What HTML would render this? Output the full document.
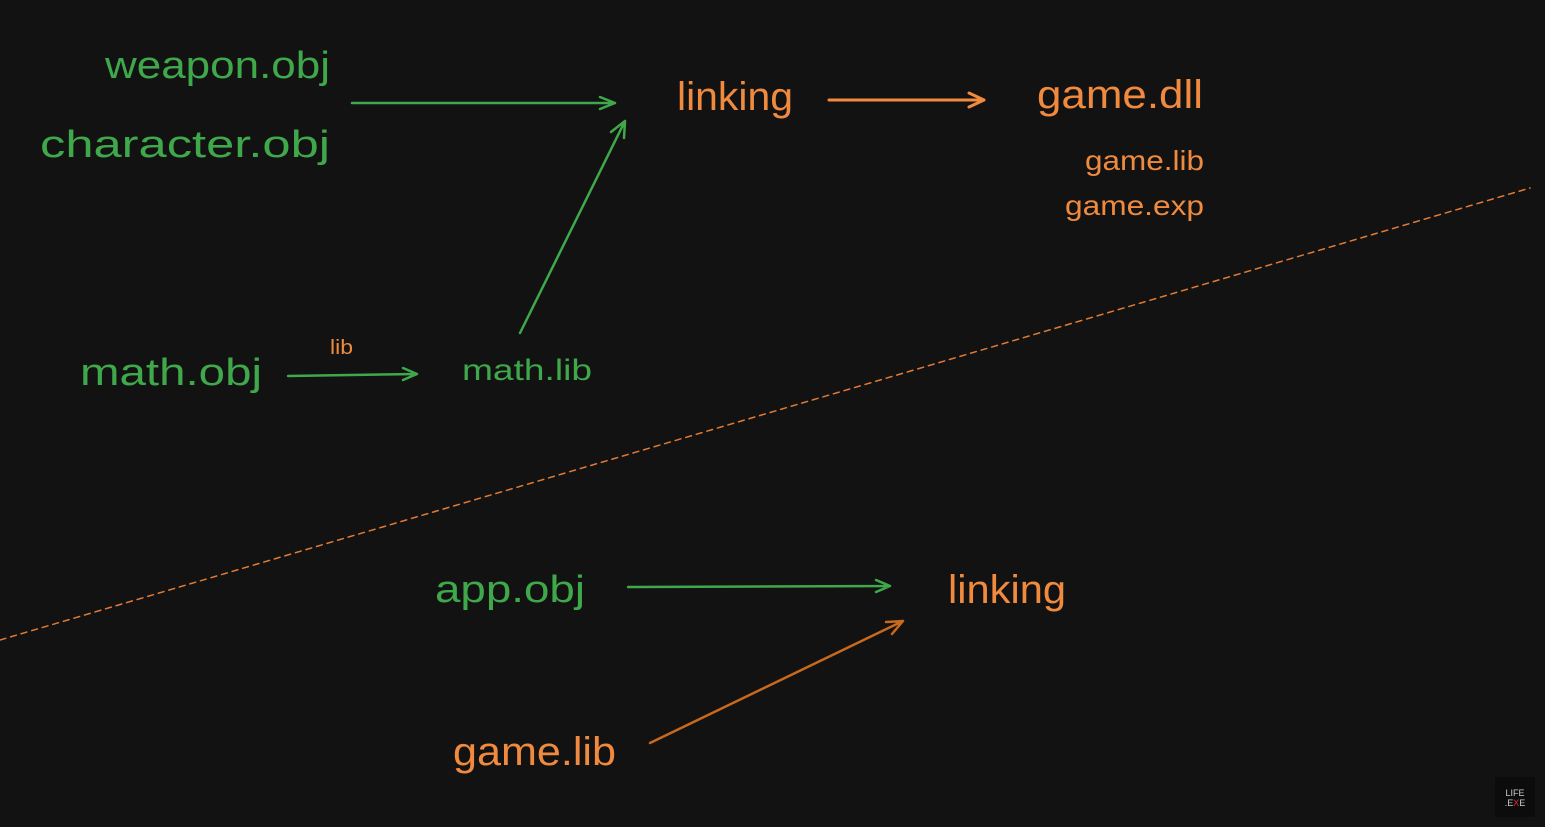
<!DOCTYPE html>
<html><head><meta charset="utf-8"><style>
html,body{margin:0;padding:0;background:#121212;}
svg{display:block}
text{font-family:"Liberation Sans",sans-serif;}
</style></head><body>
<svg width="1545" height="827" viewBox="0 0 1545 827" xmlns="http://www.w3.org/2000/svg">
<rect width="1545" height="827" fill="#121212"/>
<g fill="#3fa84b" font-size="38">
<text x="105" y="78" textLength="225" lengthAdjust="spacingAndGlyphs">weapon.obj</text>
<text x="40" y="157" textLength="290" lengthAdjust="spacingAndGlyphs">character.obj</text>
<text x="80" y="385" textLength="182" lengthAdjust="spacingAndGlyphs">math.obj</text>
<text x="462" y="380" font-size="30" textLength="130" lengthAdjust="spacingAndGlyphs">math.lib</text>
<text x="435" y="602" textLength="150" lengthAdjust="spacingAndGlyphs">app.obj</text>
</g>
<g fill="#f08a3e" font-size="40">
<text x="677" y="110" textLength="116" lengthAdjust="spacingAndGlyphs">linking</text>
<text x="1037" y="108" textLength="166" lengthAdjust="spacingAndGlyphs">game.dll</text>
<text x="1085" y="170" font-size="28" textLength="119" lengthAdjust="spacingAndGlyphs">game.lib</text>
<text x="1065" y="215" font-size="28" textLength="139" lengthAdjust="spacingAndGlyphs">game.exp</text>
<text x="330" y="354" font-size="20" textLength="23" lengthAdjust="spacingAndGlyphs">lib</text>
<text x="948" y="603" textLength="118" lengthAdjust="spacingAndGlyphs">linking</text>
<text x="453" y="765" textLength="163" lengthAdjust="spacingAndGlyphs">game.lib</text>
</g>
<g fill="none" stroke-width="2.5" stroke-linecap="round" stroke-linejoin="round">
<g stroke="#3fa84b">
<path d="M352 103 L615 103 M600 97 L615 103 L600 109"/>
<path d="M520 333 L625 121 M611 132 L625 121 L624 138"/>
<path d="M288 376 L417 374 M403 368 L417 374 L403 380"/>
<path d="M628 587 L890 586 M876 580 L890 586 L876 592"/>
</g>
<path stroke="#f08a3e" stroke-width="3" d="M829 100 L984 100 M969 93 L984 100 L969 107"/>
<path stroke="#c8691c" d="M650 743 L903 621 M886 622 L903 621 L892 634"/>
<path stroke="#e07a35" stroke-width="1.5" stroke-dasharray="6 5" d="M0 640 L1530 188"/>
</g>
<rect x="1495" y="777" width="40" height="40" fill="#0c0c0c"/>
<text x="1515" y="796" font-size="9" fill="#ccc" text-anchor="middle" font-family="Liberation Mono,monospace">LIFE</text>
<text x="1515" y="806" font-size="9" fill="#ccc" text-anchor="middle" font-family="Liberation Mono,monospace">.E<tspan fill="#e03030">X</tspan>E</text>
</svg>
</body></html>
